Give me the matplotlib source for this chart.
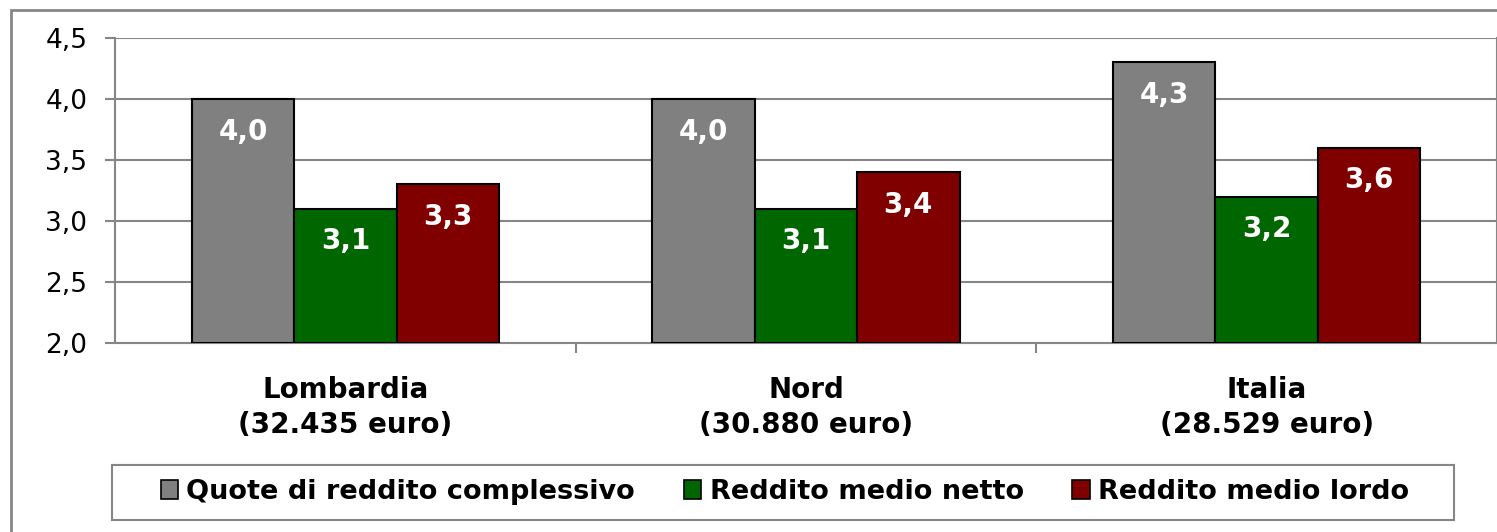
import matplotlib.pyplot as plt
import numpy as np
from matplotlib.patches import Rectangle, Patch

plt.rcParams['font.family'] = ['DejaVu Sans']

categories = ['Lombardia\n(32.435 euro)', 'Nord\n(30.880 euro)', 'Italia\n(28.529 euro)']
quote = [4.0, 4.0, 4.3]
netto = [3.1, 3.1, 3.2]
lordo = [3.3, 3.4, 3.6]
series_names = ['Quote di reddito complessivo', 'Reddito medio netto', 'Reddito medio lordo']
colors = ['#808080', '#006600', '#800000']

W, H = 1497, 532
fig = plt.figure(figsize=(W / 100, H / 100), dpi=100)
ax = fig.add_axes([115 / W, 1 - 343 / H, (1497 - 115) / W, (343 - 38) / H])

# outer chart border
fig.patches.append(Rectangle((11 / W, -0.1), 1.2, 1.1 - 10 / H, transform=fig.transFigure,
                             fill=False, edgecolor='#868686', linewidth=2))

x = np.arange(len(categories))
w = 1 / 4.5
for i, (vals, c) in enumerate(zip([quote, netto, lordo], colors)):
    bars = ax.bar(x + (i - 1) * w, np.array(vals) - 2.0, w, bottom=2.0, color=c,
                  edgecolor='black', linewidth=1.5, zorder=3)
    for b, v in zip(bars, vals):
        ax.annotate(f'{v:.1f}'.replace('.', ','), (b.get_x() + b.get_width() / 2, v),
                    xytext=(0, -23.5), textcoords='offset points',
                    ha='center', va='center', color='white', fontsize=20,
                    fontweight='bold', zorder=4)

ax.set_xlim(-0.5, 2.5)
ax.set_ylim(2.0, 4.5)
yt = np.arange(2.0, 4.51, 0.5)
ax.set_yticks(yt)
ax.set_yticklabels([f'{v:.1f}'.replace('.', ',') for v in yt], fontsize=19)
ax.grid(axis='y', color='#868686', linewidth=1.5, zorder=0)
ax.set_axisbelow(True)

ax.set_xticks(x)
ax.set_xticklabels(categories, fontsize=20, fontweight='bold', linespacing=1.3)
ax.tick_params(axis='x', length=0, pad=24)
ax.set_xticks([0.5, 1.5], minor=True)
ax.tick_params(axis='x', which='minor', length=7, width=1.5, color='#868686', direction='out')
ax.tick_params(axis='y', length=7, width=1.5, color='#868686', pad=13)

for s in ['left', 'bottom', 'right', 'top']:
    ax.spines[s].set_color('#868686')
    ax.spines[s].set_linewidth(1.5)
ax.spines['top'].set_visible(False)

# legend box
fig.patches.append(Rectangle((112 / W, 1 - 520 / H), (1454 - 112) / W, 55 / H,
                             transform=fig.transFigure, fill=False,
                             edgecolor='#868686', linewidth=1.5))
handles = [Patch(facecolor=c, edgecolor='black', linewidth=1.2) for c in colors]
fig.legend(handles, series_names, loc='center', bbox_to_anchor=(785 / W, 1 - 492 / H),
           ncol=3, frameon=False, prop={'size': 19.5, 'weight': 'bold'},
           handlelength=0.65, handleheight=0.65, handletextpad=0.3, columnspacing=1.8)

fig.savefig('out.png', dpi=100)
